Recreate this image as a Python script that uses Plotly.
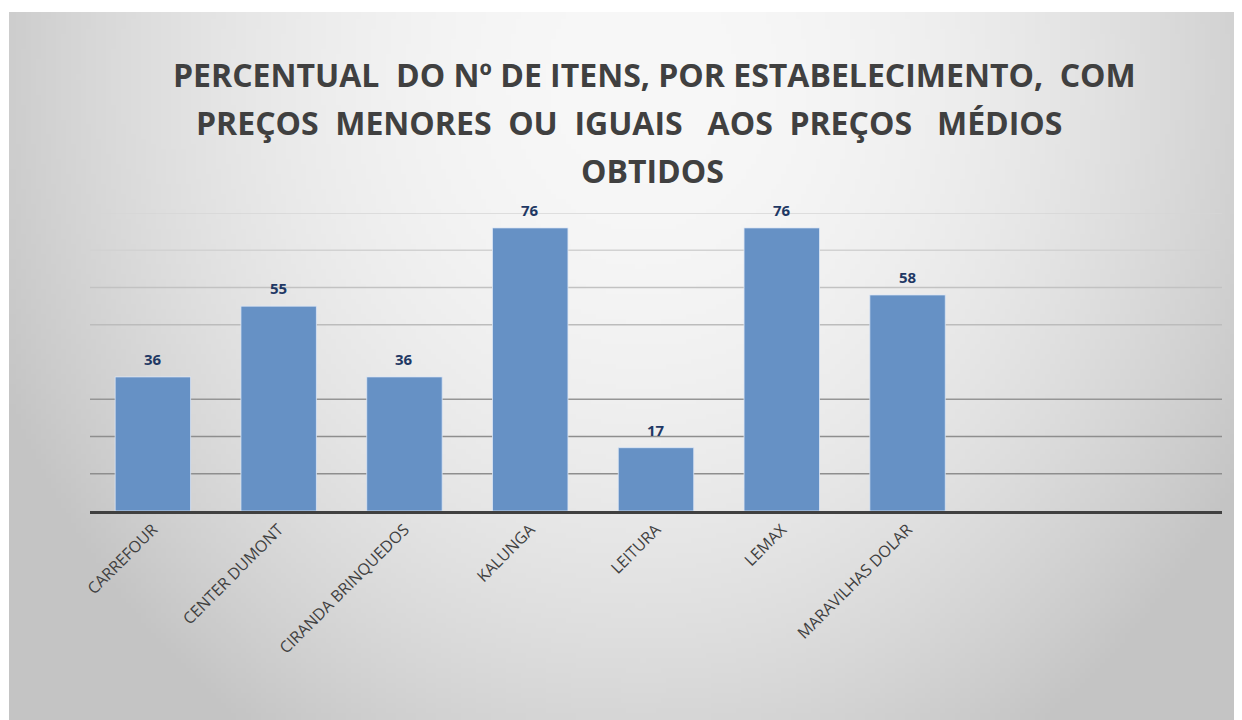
import zlib, struct, base64
import numpy as np
import plotly.graph_objects as go

# ---- data ----
categories = ["CARREFOUR", "CENTER DUMONT", "CIRANDA BRINQUEDOS", "KALUNGA",
              "LEITURA", "LEMAX", "MARAVILHAS DOLAR"]
values = [36, 55, 36, 76, 17, 76, 58]
title_lines = ["PERCENTUAL  DO Nº DE ITENS, POR ESTABELECIMENTO,  COM",
               "PREÇOS  MENORES  OU  IGUAIS   AOS  PREÇOS   MÉDIOS",
               "OBTIDOS"]
grid_levels = [10, 20, 30, 50, 60, 70, 80]
grid_colors = ["#8e8e8e", "#8e8e8e", "#959595", "#bcbcbc", "#c2c2c2", "#d2d2d2", "#d6d6d6"]

# ---- figure geometry (page body adds an 8px offset) ----
OFF = 8
W, H = 1242 - OFF, 720 - OFF
L, R, T, B = 90 - OFF, 20, 213 - OFF, 209
PW, PH = W - L - R, H - T - B

# ---- background gradient image ----
def gradient_png():
    gw, gh = 247, 142  # 1/5 scale of 1233x708
    xs = (np.arange(gw) * 5 + 9)[None, :]
    ys = (np.arange(gh) * 5 + 12)[:, None]
    d2 = ((xs - 640) / 700.0) ** 2 + ((ys - 75) / 800.0) ** 2
    v = 248 - 52 * d2
    v = np.clip(v, 196, 250).astype(np.uint8)
    raw = b"".join(b"\x00" + v[j].tobytes() for j in range(gh))
    def chunk(t, data):
        return struct.pack(">I", len(data)) + t + data + struct.pack(">I", zlib.crc32(t + data) & 0xffffffff)
    png = (b"\x89PNG\r\n\x1a\n" + chunk(b"IHDR", struct.pack(">IIBBBBB", gw, gh, 8, 0, 0, 0, 0))
           + chunk(b"IDAT", zlib.compress(raw, 9)) + chunk(b"IEND", b""))
    return "data:image/png;base64," + base64.b64encode(png).decode()

fig = go.Figure()
fig.add_trace(go.Bar(
    x=categories, y=values, width=0.6,
    marker=dict(color="#6691c5", line=dict(color="rgba(220,230,245,0.8)", width=1)),
    hoverinfo="x+y",
))

# data labels
for c, v in zip(categories, values):
    fig.add_annotation(x=c, y=v, text=str(v), showarrow=False, yanchor="bottom", yshift=6,
                       font=dict(family="Open Sans", size=15, color="#1f3864", weight="bold"))

# title lines (screen centre x, centre y)
title_x = [654, 629, 652]
title_y = [75, 122, 170]
for t, xx, yy in zip(title_lines, title_x, title_y):
    fig.add_annotation(xref="paper", yref="paper", x=(xx - OFF - L) / PW, y=(H - B - (yy - OFF)) / PH,
                       text=t, showarrow=False, xanchor="center", yanchor="middle",
                       font=dict(family="Open Sans", size=32, color="#404040", weight="bold"))

shapes = []
for g, col in zip(grid_levels, grid_colors):
    shapes.append(dict(type="line", xref="paper", yref="y", x0=0, x1=1, y0=g, y1=g,
                       line=dict(color=col, width=1.3), layer="below"))

fig.update_layout(
    width=W, height=H,
    margin=dict(l=L, r=R, t=T, b=B),
    paper_bgcolor="white", plot_bgcolor="rgba(0,0,0,0)",
    showlegend=False, bargap=0.4,
    shapes=shapes,
    images=[dict(source=gradient_png(), xref="paper", yref="paper",
                 x=(1 - L) / PW, y=(H - B - 4) / PH, sizex=(W - 1) / PW, sizey=(H - 4) / PH,
                 xanchor="left", yanchor="top", sizing="stretch", layer="below")],
    xaxis=dict(type="category", categoryorder="array", categoryarray=categories,
               range=[-0.5, 8.5], showgrid=False, showline=True, linecolor="#404040", linewidth=3,
               ticks="", tickangle=-45, tickfont=dict(family="Open Sans", size=16, color="#404040"),
               fixedrange=True),
    yaxis=dict(range=[0, 80], showgrid=False, zeroline=False, showticklabels=False, fixedrange=True),
)

fig.write_html("out.html")
